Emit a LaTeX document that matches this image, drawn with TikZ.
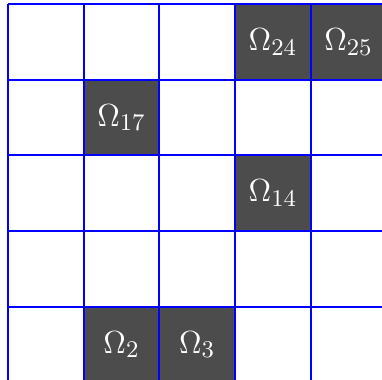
\documentclass[tikz,border=0pt]{standalone}
\begin{document}
\begin{tikzpicture}[x=1cm,y=1cm,
  dark/.style={fill=black!70,draw=none,minimum size=1cm,inner sep=0pt,text=white,font=\fontsize{12.6}{15}\selectfont},
  gridline/.style={blue,line width=0.75pt}]
\useasboundingbox (-0.106,0.033) rectangle (4.941,5.053);
\node[dark] (o24) at (3.5,4.5) {$\Omega_{24}$};
\node[dark] (o25) at (4.5,4.5) {$\Omega_{25}$};
\node[dark] (o17) at (1.5,3.5) {$\Omega_{17}$};
\node[dark] (o14) at (3.5,2.5) {$\Omega_{14}$};
\node[dark] (o2) at (1.5,0.5) {$\Omega_{2}$};
\node[dark] (o3) at (2.5,0.5) {$\Omega_{3}$};
\draw[gridline] (0,0) grid (5,5);
\end{tikzpicture}
\end{document}
